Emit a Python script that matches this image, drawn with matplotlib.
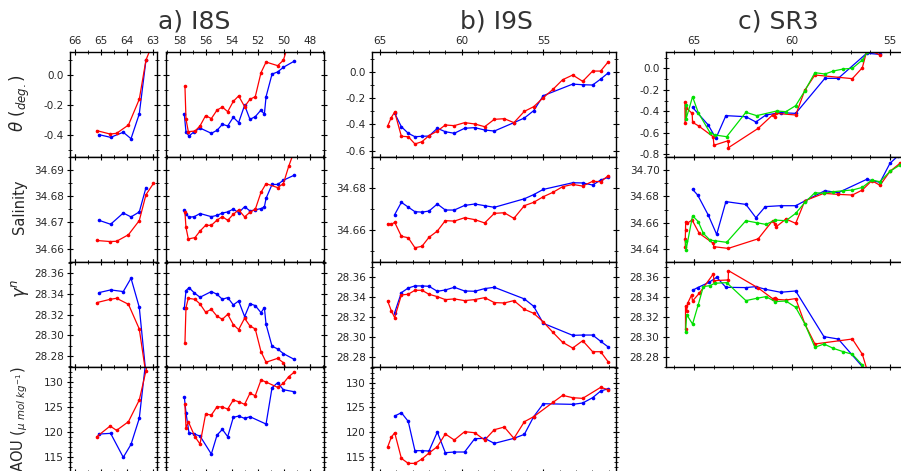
import numpy as np
import matplotlib
matplotlib.use("Agg")
import matplotlib.pyplot as plt
from matplotlib.ticker import MultipleLocator, FormatStrFormatter

nan = np.nan

# ---------------- I8S (left, southern part) ----------------
a1_blue_lat = [65.08, 64.63, 64.14, 63.84, 63.52, 63.26]
a1_blue_theta = [-0.400, -0.418, -0.384, -0.427, -0.262, 0.098]
a1_blue_sal = [34.6708, 34.6693, 34.6736, 34.6721, 34.6740, 34.6833]
a1_blue_gam = [28.3413, 28.3439, 28.3423, 28.3552, 28.3271, 28.262]
a1_blue_aou = [119.53, 119.67, 114.87, 117.47, 122.67, 134.5]

a1_red_lat = [65.17, 64.65, 64.40, 63.94, 63.52, 63.26, 62.97]
a1_red_theta = [-0.373, -0.396, -0.391, -0.336, -0.164, 0.098, 0.22]
a1_red_sal = [34.6631, 34.6627, 34.6628, 34.6653, 34.6707, 34.6806, 34.6849]
a1_red_gam = [28.3316, 28.3348, 28.3358, 28.3300, 28.3061, 28.262, 28.240]
a1_red_aou = [119.0, 121.13, 120.27, 122.0, 126.33, 132.2, 140.0]

# ---------------- I8S (right, northern part) ----------------
a2_blue_lat = [57.67, 57.54, 57.31, 56.90, 56.46, 55.59, 55.15, 54.74, 54.33, 53.90, 53.49,
               53.03, 52.62, 52.21, 51.77, 51.51, 51.38, 50.92, 50.49, 50.05, 49.23]
a2_blue_theta = [-0.264, -0.382, -0.409, -0.380, -0.356, -0.391, -0.371, -0.331, -0.342, -0.284, -0.320,
                 -0.204, -0.298, -0.280, -0.236, -0.264, -0.147, 0.004, 0.018, 0.049, 0.089]
a2_blue_sal = [34.6746, 34.6732, 34.6720, 34.6722, 34.6734, 34.6722, 34.6727, 34.6736, 34.6740, 34.6751, 34.6737,
               34.6760, 34.6744, 34.6748, 34.6753, 34.6759, 34.6792, 34.6845, 34.6845, 34.6861, 34.6880]
a2_blue_gam = [28.3261, 28.3432, 28.3461, 28.3410, 28.3368, 28.3423, 28.3397, 28.3348, 28.3365, 28.3294, 28.3332,
               28.3181, 28.3306, 28.3287, 28.3219, 28.3268, 28.3106, 28.2894, 28.2868, 28.2823, 28.2768]
a2_blue_aou = [127.0, 123.8, 119.8, 119.53, 119.13, 115.53, 119.33, 120.47, 119.0, 122.87, 123.13,
               122.67, 123.0, nan, nan, nan, 121.53, 128.8, 129.8, 128.4, 128.0]

a2_red_lat = [57.62, 57.54, 57.36, 56.85, 56.46, 56.03, 55.59, 55.15, 54.74, 54.33, 53.90,
              53.49, 53.03, 52.62, 52.21, 51.77, 51.38, 50.49, 50.05, 49.64, 49.23]
a2_red_theta = [-0.076, -0.296, -0.380, -0.376, -0.342, -0.273, -0.293, -0.236, -0.216, -0.247, -0.178,
                -0.142, -0.213, -0.164, -0.147, 0.013, 0.084, 0.060, 0.096, 0.21, 0.30]
a2_red_sal = [34.6739, 34.6681, 34.6637, 34.6642, 34.6667, 34.6689, 34.6689, 34.6709, 34.6722, 34.6708, 34.6731,
              34.6748, 34.6721, 34.6739, 34.6750, 34.6815, 34.6848, 34.6833, 34.6848, 34.6914, 34.6970]
a2_red_gam = [28.2923, 28.3268, 28.3358, 28.3348, 28.3303, 28.3223, 28.3252, 28.3184, 28.3155, 28.3203, 28.3103,
              28.3055, 28.3165, 28.3090, 28.3061, 28.2842, 28.2739, 28.2777, 28.2735, 28.262, 28.255]
a2_red_aou = [125.47, 120.8, 122.0, 119.0, 117.53, 123.53, 123.33, 125.0, 124.93, 124.53, 126.33,
              126.0, 125.47, 127.67, 127.2, 130.33, 129.93, 128.87, 129.67, 131.0, 131.87]

# ---------------- I9S ----------------
b_blue_lat = [64.10, 63.69, 63.27, 62.86, 62.43, 62.00, 61.49, 61.00, 60.45, 59.82, 59.20,
              58.59, 58.00, 56.80, 56.16, 55.59, 55.00, 53.20, 52.59, 51.98, 51.49, 51.02]
b_blue_theta = [-0.316, -0.418, -0.468, -0.494, -0.491, -0.489, -0.430, -0.456, -0.468, -0.430, -0.425,
                -0.443, -0.451, -0.387, -0.352, -0.296, -0.182, -0.094, -0.099, -0.101, -0.056, -0.008]
b_blue_sal = [34.6674, 34.6733, 34.6710, 34.6688, 34.6686, 34.6691, 34.6725, 34.6696, 34.6696, 34.6718, 34.6725,
              34.6717, 34.6709, nan, 34.6750, 34.6770, 34.6795, 34.6827, 34.6826, 34.6816, 34.6840, 34.6853]
b_blue_gam = [28.3244, 28.3445, 28.3492, 28.3513, 28.3513, 28.3509, 28.3459, 28.3472, 28.3499, 28.3462, 28.3459,
              28.3486, 28.3499, nan, 28.3382, 28.3308, 28.3136, 28.3015, 28.3018, 28.3018, 28.2955, 28.2897]
b_blue_aou = [123.24, 123.92, 122.16, 116.22, 116.22, 116.15, 120.0, 115.81, 115.95, 115.95, 118.65,
              118.72, 117.7, 118.72, 119.53, 123.11, 125.74, 125.61, 125.88, 126.96, 128.31, 128.78]

b_red_lat = [64.53, 64.31, 64.10, 63.69, 63.27, 62.86, 62.43, 62.00, 61.49, 61.00, 60.45, 59.82, 59.20, 58.59,
             58.00, 57.39, 56.80, 56.16, 55.59, 55.00, 54.41, 53.82, 53.20, 52.59, 51.98, 51.49, 51.02]
b_red_theta = [-0.413, -0.349, -0.306, -0.491, -0.494, -0.549, -0.532, -0.486, -0.451, -0.405, -0.410, -0.387,
               -0.397, -0.418, -0.362, -0.357, -0.387, -0.301, -0.266, -0.197, -0.134, -0.061, -0.025, -0.073,
               0.005, 0.005, 0.076]
b_red_sal = [34.6630, 34.6627, 34.6637, 34.6570, 34.6563, 34.6515, 34.6522, 34.6565, 34.6595, 34.6645, 34.6643,
             34.6659, 34.6650, 34.6634, 34.6680, 34.6683, 34.6656, 34.6717, 34.6733, 34.6760, 34.6781, 34.6808,
             34.6819, 34.6811, 34.6834, 34.6832, 34.6861]
b_red_gam = [28.3361, 28.3264, 28.3193, 28.3422, 28.3429, 28.3469, 28.3469, 28.3429, 28.3405, 28.3375, 28.3382,
             28.3365, 28.3375, 28.3395, 28.3345, 28.3341, 28.3365, 28.3277, 28.3237, 28.3150, 28.3045, 28.2945,
             28.2887, 28.2961, 28.2850, 28.2850, 28.2746]
b_red_aou = [116.96, 118.92, 119.86, 114.66, 113.65, 113.65, 114.53, 115.74, 117.03, 119.6, 118.38, 120.07,
             119.86, 118.38, 120.47, 121.01, 118.72, 122.09, 123.11, nan, 126.01, 127.43, 126.96, 126.82,
             nan, 129.05, 128.58]

# ---------------- SR3 ----------------
c_red_theta_lat = [65.46, 65.45, 65.38, 65.09, 65.07, 64.76, 64.02, 63.98, 63.25, 63.24, 61.72, 60.99,
                   60.87, 60.82, 59.81, 59.34, 58.83, 56.92, 56.41, 56.16, 55.51]
c_red_theta = [-0.316, -0.505, -0.370, -0.419, -0.502, -0.536, -0.636, -0.716, -0.673, -0.738, -0.558, -0.434,
               -0.450, -0.419, -0.434, -0.202, -0.062, -0.096, 0.006, 0.18, 0.124]
c_blue_theta_lat = [65.07, 64.27, 63.88, 63.37, 62.35, 61.84, 61.33, 60.58, 59.81, 58.32, 57.64, 56.19, 55.51]
c_blue_theta = [-0.363, -0.527, -0.651, -0.440, -0.450, -0.499, -0.434, -0.412, -0.419, -0.093, -0.093, 0.14, 0.13]
c_green_theta_lat = [65.41, 65.40, 65.07, 64.78, 64.18, 63.93, 63.33, 62.35, 61.80, 60.78, 60.31, 59.81,
                     59.34, 58.83, 58.32, 57.89, 57.38, 56.92, 56.41, 56.16]
c_green_theta = [-0.341, -0.470, -0.264, -0.412, -0.598, -0.620, -0.636, -0.409, -0.440, -0.397, -0.403, -0.347,
                 -0.208, -0.040, -0.053, -0.025, -0.006, 0.000, 0.078, 0.149]

c_red_sal_lat = [65.44, 65.44, 65.43, 65.42, 65.36, 65.09, 64.73, 64.01, 63.99, 63.25, 61.72, 60.99, 60.87,
                 60.82, 60.31, 59.81, 59.34, 58.37, 57.64, 56.92, 56.41, 55.93, 55.51, 55.00, 54.49]
c_red_sal = [34.6418, 34.6480, 34.6544, 34.6608, 34.6595, 34.6620, 34.6519, 34.6443, 34.6418, 34.6405, 34.6478,
             34.6615, 34.6590, 34.6567, 34.6628, 34.6595, 34.6767, 34.6823, 34.6815, 34.6810, 34.6848, 34.6919,
             34.6884, 34.6990, 34.7051]
c_blue_sal_lat = [65.07, 64.81, 64.27, 63.84, 63.37, 62.35, 61.84, 61.36, 60.58, 59.81, 59.32, 58.32, 57.64,
                  56.19, 55.51, 55.00, 54.57]
c_blue_sal = [34.6853, 34.6810, 34.6658, 34.6511, 34.6760, 34.6739, 34.6638, 34.6722, 34.6729, 34.6729, 34.6767,
              34.6843, 34.6828, 34.6929, 34.6906, 34.7051, 34.7110]
c_green_sal_lat = [65.43, 65.40, 65.07, 64.78, 64.52, 64.18, 63.93, 63.33, 62.35, 61.80, 61.33, 60.85, 60.31,
                   59.81, 59.34, 58.83, 58.37, 57.89, 57.38, 56.92, 56.41, 55.93, 55.51, 55.00, 54.49]
c_green_sal = [34.6460, 34.6395, 34.6653, 34.6608, 34.6519, 34.6468, 34.6463, 34.6451, 34.6615, 34.6600, 34.6587,
               34.6620, 34.6615, 34.6671, 34.6754, 34.6828, 34.6823, 34.6835, 34.6843, 34.6848, 34.6868, 34.6924,
               34.6911, 34.6990, 34.7038]

c_red_gam_lat = [65.43, 65.43, 65.37, 65.32, 65.12, 65.07, 64.73, 64.01, 63.98, 63.25, 63.24, 61.72, 60.99,
                 60.87, 60.82, 60.31, 59.81, 59.34, 58.83, 56.92, 56.41, 56.19]
c_red_gam = [28.3079, 28.3308, 28.3260, 28.3338, 28.3422, 28.3361, 28.3439, 28.3634, 28.3566, 28.3573, 28.3667,
             28.3492, 28.3385, 28.3392, 28.3378, 28.3371, 28.3385, 28.3129, 28.2928, 28.2978, 28.2824, 28.268]
c_blue_gam_lat = [65.07, 64.81, 64.22, 63.84, 63.37, 62.35, 61.84, 61.36, 60.58, 59.81, 58.37, 57.64, 56.19]
c_blue_gam = [28.3469, 28.3496, 28.3550, 28.3600, 28.3499, 28.3496, 28.3506, 28.3479, 28.3449, 28.3462, 28.3002,
              28.2978, 28.265]
c_green_gam_lat = [65.43, 65.37, 65.07, 64.78, 64.52, 64.18, 63.93, 63.33, 62.35, 61.80, 61.33, 60.85, 60.31,
                   59.81, 59.34, 58.83, 58.37, 57.89, 57.38, 56.92, 56.41]
c_green_gam = [28.3045, 28.3224, 28.3129, 28.3324, 28.3506, 28.3516, 28.3540, 28.3546, 28.3365, 28.3388, 28.3405,
               28.3355, 28.3361, 28.3297, 28.3129, 28.2894, 28.2928, 28.2884, 28.2850, 28.2824, 28.2716]

titles = ["a) I8S", "b) I9S", "c) SR3"]
ylabels = [r"$\theta$ $(_{deg.})$", "Salinity", r"$\gamma^n$", r"AOU $(_{\mu\ mol\ kg^{-1}})$"]

# ---------------- figure ----------------
W, H = 901, 471
fig = plt.figure(figsize=(W / 100, H / 100), dpi=100)
plt.rcParams['font.family'] = ['DejaVu Sans']
TXT = '#262626'

def px_ax(x0, x1, y0, y1):
    return fig.add_axes([x0 / W, 1 - y1 / H, (x1 - x0) / W, (y1 - y0) / H])

cols = {'a1': (70, 157), 'a2': (166, 324), 'b': (372.3, 616), 'c': (665.7, 905)}
rows = [(52, 156.7), (156.7, 261.7), (261.7, 366.7), (366.7, 471.7)]
xlims = {'a1': (66.205, 62.833), 'a2': (59.077, 46.923), 'b': (65.47, 50.55), 'c': (66.44, 54.235)}
xmaj = {'a1': (1, 0.5), 'a2': (2, 1), 'b': (5, 1), 'c': (5, 1)}

ylims = {
    'a': [(-0.547, 0.151), (34.655, 34.6951), (28.2696, 28.3712), (112.0, 133.0)],
    'b': [(-0.646, 0.150), (34.6448, 34.6952), (28.2699, 28.3757), (111.96, 133.24)],
    'c': [(-0.822, 0.152), (34.6304, 34.7101), (28.2699, 28.3757)],
}
ymaj = {
    'a': [(0.2, 0.1, '%.1f'), (0.01, 0.005, '%.2f'), (0.02, 0.01, '%.2f'), (5, 1, '%d')],
    'b': [(0.2, 0.1, '%.1f'), (0.02, 0.01, '%.2f'), (0.02, 0.01, '%.2f'), (5, 1, '%d')],
    'c': [(0.2, 0.1, '%.1f'), (0.02, 0.01, '%.2f'), (0.02, 0.01, '%.2f')],
}

def series_plot(ax, lat, vals, color):
    lat = np.asarray(lat, float)
    vals = np.asarray(vals, float)
    m = np.isfinite(vals)
    ax.plot(lat[m], vals[m], '-', color=color, lw=0.9, marker='o', ms=2.6,
            markeredgewidth=0, clip_on=True)

def style(ax, col, grp, r):
    ax.set_xlim(*xlims[col])
    ax.set_ylim(*ylims[grp][r])
    mj, mn = xmaj[col]
    ax.xaxis.set_major_locator(MultipleLocator(mj))
    ax.xaxis.set_minor_locator(MultipleLocator(mn))
    ymj, ymn, fmt = ymaj[grp][r]
    ax.yaxis.set_major_locator(MultipleLocator(ymj))
    ax.yaxis.set_minor_locator(MultipleLocator(ymn))
    ax.yaxis.set_major_formatter(FormatStrFormatter(fmt))
    ax.xaxis.set_major_formatter(FormatStrFormatter('%d'))
    ax.tick_params(which='both', direction='inout', top=True, bottom=True, left=True, right=True,
                   labelsize=7.5, colors='black', labelcolor=TXT, pad=2)
    ax.tick_params(which='major', length=5, width=0.8)
    ax.tick_params(which='minor', length=3, width=0.6)
    ax.tick_params(labelbottom=False, labeltop=(r == 0), labelleft=(col != 'a2'), labelright=False)
    for s in ax.spines.values():
        s.set_linewidth(1.0)

red, blue, green = '#ff0000', '#0000ff', '#00e000'

a1_data = [(a1_blue_theta, a1_red_theta), (a1_blue_sal, a1_red_sal), (a1_blue_gam, a1_red_gam),
           (a1_blue_aou, a1_red_aou)]
a2_data = [(a2_blue_theta, a2_red_theta), (a2_blue_sal, a2_red_sal), (a2_blue_gam, a2_red_gam),
           (a2_blue_aou, a2_red_aou)]
b_data = [(b_blue_theta, b_red_theta), (b_blue_sal, b_red_sal), (b_blue_gam, b_red_gam),
          (b_blue_aou, b_red_aou)]
c_data = [
    [(c_blue_theta_lat, c_blue_theta, blue), (c_red_theta_lat, c_red_theta, red),
     (c_green_theta_lat, c_green_theta, green)],
    [(c_blue_sal_lat, c_blue_sal, blue), (c_red_sal_lat, c_red_sal, red),
     (c_green_sal_lat, c_green_sal, green)],
    [(c_blue_gam_lat, c_blue_gam, blue), (c_red_gam_lat, c_red_gam, red),
     (c_green_gam_lat, c_green_gam, green)],
]

for r in range(4):
    y0, y1 = rows[r]
    ax = px_ax(*cols['a1'], y0, y1)
    style(ax, 'a1', 'a', r)
    series_plot(ax, a1_blue_lat, a1_data[r][0], blue)
    series_plot(ax, a1_red_lat, a1_data[r][1], red)

    ax = px_ax(*cols['a2'], y0, y1)
    style(ax, 'a2', 'a', r)
    series_plot(ax, a2_blue_lat, a2_data[r][0], blue)
    series_plot(ax, a2_red_lat, a2_data[r][1], red)

    ax = px_ax(*cols['b'], y0, y1)
    style(ax, 'b', 'b', r)
    series_plot(ax, b_blue_lat, b_data[r][0], blue)
    series_plot(ax, b_red_lat, b_data[r][1], red)

    if r < 3:
        ax = px_ax(*cols['c'], y0, y1)
        style(ax, 'c', 'c', r)
        for lat, vals, colr in c_data[r]:
            series_plot(ax, lat, vals, colr)

# titles
for t, xc in zip(titles, [194, 496, 778]):
    fig.text(xc / W, 1 - 22 / H, t, ha='center', va='center', fontsize=18, color='#333333')

# row labels
lab_y = [103, 207, 288, 419]
lab_sz = [12, 10.5, 12, 10.5]
for lab, yc, fs in zip(ylabels, lab_y, lab_sz):
    fig.text(20 / W, 1 - yc / H, lab, rotation=90, ha='center', va='center', fontsize=fs, color=TXT)

fig.savefig('out.png', dpi=100)
